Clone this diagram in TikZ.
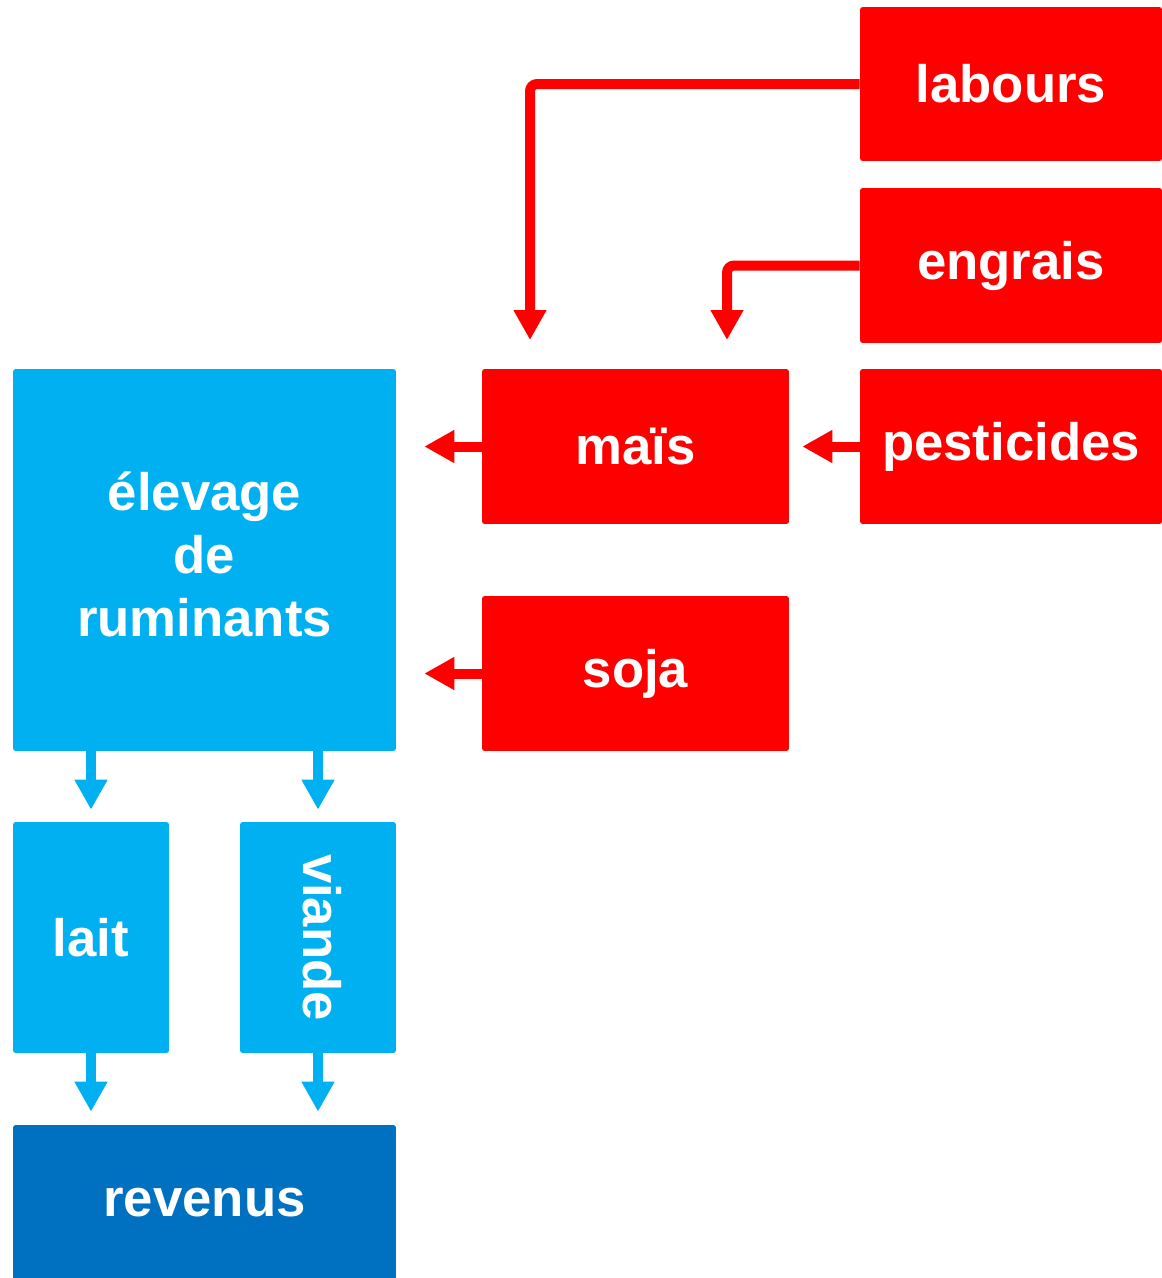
\documentclass[tikz,border=0pt]{standalone}
\usepackage{fontspec}
\setmainfont{Liberation Sans}
\usetikzlibrary{arrows.meta}

\definecolor{rouge}{HTML}{FF0000}
\definecolor{bleuclair}{HTML}{00B0F0}
\definecolor{bleufonce}{HTML}{0070C0}

\begin{document}
\begin{tikzpicture}[x=0.02cm, y=-0.02cm, line join=round]

% --- Styles ---
\tikzset{
    box/.style={
        rounded corners=1.5pt,
        inner sep=0pt,
        text=white,
        font=\fontsize{30}{36}\selectfont\bfseries,
        align=center
    },
    intrant/.style={
        box,
        fill=rouge
    },
    elevage/.style={
        box,
        fill=bleuclair
    },
    flux/.style={
        -{Triangle[width=0.62cm, length=0.6cm]},
        line width=0.2cm,
        rounded corners=4pt
    }
}

\useasboundingbox (0,0) rectangle (1162,1278);

% =========================================================================
% --- Intrants (red) ---
% =========================================================================
\node[intrant, minimum width=6.04cm, minimum height=3.08cm] (labours) at (1011,84) {labours};
\node[intrant, minimum width=6.04cm, minimum height=3.10cm] (engrais) at (1011,265.5) {engrais};
\node[intrant, minimum width=6.04cm, minimum height=3.10cm] (pesticides) at (1011,446.5) {pesticides};
\node[intrant, minimum width=6.14cm, minimum height=3.10cm] (mais) at (635.5,446.5) {maïs};
\node[intrant, minimum width=6.14cm, minimum height=3.10cm] (soja) at (635.5,673.5) {soja};

% =========================================================================
% --- Elevage and products (blue) ---
% =========================================================================
\node[elevage, minimum width=7.66cm, minimum height=7.64cm, text depth=0.24cm] (ruminants) at (204.5,560) {élevage\\de\\ruminants};
\node[elevage, minimum width=3.12cm, minimum height=4.62cm] (lait) at (91,937.5) {lait};
\node[elevage, minimum width=4.62cm, minimum height=3.12cm, text depth=0.2cm, rotate=-90] (viande) at (318,937.5) {viande};
\node[box, fill=bleufonce, minimum width=7.66cm, minimum height=3.10cm] (revenus) at (204.5,1202.5) {revenus};

% --- Free ends of the two bent arrows ---
\coordinate (tiplabours) at (530,340);
\coordinate (tipengrais) at (727,340);

% =========================================================================
% --- Connectors ---
% =========================================================================
\draw[flux, draw=rouge] (labours.west) -| (tiplabours);
\draw[flux, draw=rouge] (engrais.west) -| (tipengrais);
\draw[flux, draw=rouge, shorten >=0.26cm] (pesticides.west) -- (mais.east);
\draw[flux, draw=rouge, shorten >=0.56cm] (mais.west) -- (mais.west -| ruminants.east);
\draw[flux, draw=rouge, shorten >=0.56cm] (soja.west) -- (soja.west -| ruminants.east);

\draw[flux, draw=bleuclair, shorten >=0.24cm] (lait.north |- ruminants.south) -- (lait.north);
\draw[flux, draw=bleuclair, shorten >=0.24cm] (viande.west |- ruminants.south) -- (viande.west);
\draw[flux, draw=bleuclair, shorten >=0.26cm] (lait.south) -- (lait.south |- revenus.north);
\draw[flux, draw=bleuclair, shorten >=0.26cm] (viande.east) -- (viande.east |- revenus.north);

\end{tikzpicture}
\end{document}
